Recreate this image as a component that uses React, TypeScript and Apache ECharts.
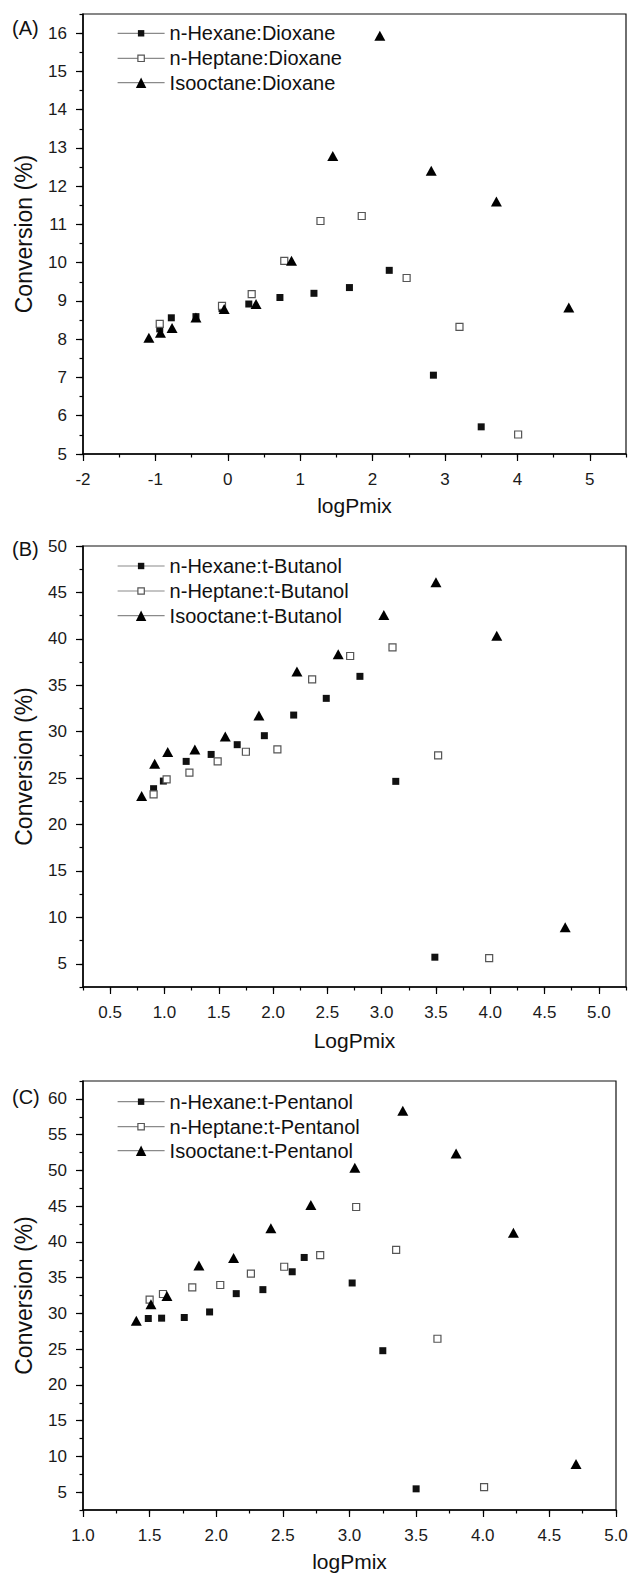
import React, { useEffect, useRef } from 'react';
import * as echarts from 'echarts';

const FONT = '"Liberation Sans", Arial, Helvetica, sans-serif';

// ---------- Panel (A): solvent mixtures with Dioxane ----------
const namesA = ['n-Hexane:Dioxane', 'n-Heptane:Dioxane', 'Isooctane:Dioxane'];
const hexaneA_x = [-0.94, -0.78, -0.44, -0.08, 0.29, 0.72, 1.19, 1.68, 2.23, 2.84, 3.5];
const hexaneA_y = [8.27, 8.56, 8.59, 8.8, 8.92, 9.09, 9.2, 9.35, 9.8, 7.06, 5.71];
const heptaneA_x = [-0.94, -0.08, 0.33, 0.78, 1.28, 1.85, 2.47, 3.2, 4.01];
const heptaneA_y = [8.4, 8.87, 9.18, 10.05, 11.09, 11.22, 9.6, 8.32, 5.51];
const isooctaneA_x = [-1.09, -0.93, -0.77, -0.44, -0.05, 0.39, 0.88, 1.45, 2.1, 2.81, 3.71, 4.71];
const isooctaneA_y = [8.04, 8.17, 8.29, 8.57, 8.79, 8.92, 10.05, 12.79, 15.93, 12.4, 11.6, 8.83];
const xTicksA = [-2, -1, 0, 1, 2, 3, 4, 5];
const yTicksA = [5, 6, 7, 8, 9, 10, 11, 12, 13, 14, 15, 16];

// ---------- Panel (B): solvent mixtures with t-Butanol ----------
const namesB = ['n-Hexane:t-Butanol', 'n-Heptane:t-Butanol', 'Isooctane:t-Butanol'];
const hexaneB_x = [0.9, 0.99, 1.2, 1.43, 1.67, 1.92, 2.19, 2.49, 2.8, 3.13, 3.49];
const hexaneB_y = [23.86, 24.68, 26.8, 27.55, 28.6, 29.57, 31.79, 33.59, 35.96, 24.65, 5.71];
const heptaneB_x = [0.9, 1.02, 1.23, 1.49, 1.75, 2.04, 2.36, 2.71, 3.1, 3.52, 3.99];
const heptaneB_y = [23.24, 24.86, 25.58, 26.8, 27.84, 28.09, 35.64, 38.15, 39.09, 27.45, 5.61];
const isooctaneB_x = [0.79, 0.91, 1.03, 1.28, 1.56, 1.87, 2.22, 2.6, 3.02, 3.5, 4.06, 4.69];
const isooctaneB_y = [23.06, 26.55, 27.8, 28.09, 29.49, 31.75, 36.47, 38.33, 42.57, 46.09, 40.34, 8.94];
const xTicksB = [0.5, 1.0, 1.5, 2.0, 2.5, 3.0, 3.5, 4.0, 4.5, 5.0];
const yTicksB = [5, 10, 15, 20, 25, 30, 35, 40, 45, 50];

// ---------- Panel (C): solvent mixtures with t-Pentanol ----------
const namesC = ['n-Hexane:t-Pentanol', 'n-Heptane:t-Pentanol', 'Isooctane:t-Pentanol'];
const hexaneC_x = [1.49, 1.59, 1.76, 1.95, 2.15, 2.35, 2.57, 2.66, 3.02, 3.25, 3.5];
const hexaneC_y = [29.28, 29.33, 29.42, 30.2, 32.76, 33.32, 35.82, 37.82, 34.25, 24.78, 5.46];
const heptaneC_x = [1.5, 1.6, 1.82, 2.03, 2.26, 2.51, 2.78, 3.05, 3.35, 3.66, 4.01];
const heptaneC_y = [31.92, 32.71, 33.64, 33.97, 35.55, 36.52, 38.15, 44.88, 38.89, 26.45, 5.7];
const isooctaneC_x = [1.4, 1.51, 1.63, 1.87, 2.13, 2.41, 2.71, 3.04, 3.4, 3.8, 4.23, 4.7];
const isooctaneC_y = [28.96, 31.28, 32.44, 36.71, 37.73, 41.91, 45.15, 50.36, 58.34, 52.35, 41.26, 8.94];
const xTicksC = [1.0, 1.5, 2.0, 2.5, 3.0, 3.5, 4.0, 4.5, 5.0];
const yTicksC = [5, 10, 15, 20, 25, 30, 35, 40, 45, 50, 55, 60];

const pairs = (xs: number[], ys: number[]) => xs.map((x, i) => [x, ys[i]]);

const markers = [
  { symbol: 'rect', symbolSize: 7, itemStyle: { color: '#111', borderWidth: 0 }, legendH: 8, legendBorder: 0 },
  { symbol: 'rect', symbolSize: 7, itemStyle: { color: '#fff', borderColor: '#555', borderWidth: 1.2 }, legendH: 8, legendBorder: 1.2 },
  { symbol: 'triangle', symbolSize: [11, 10], itemStyle: { color: '#000', borderWidth: 0 }, legendH: 13, legendBorder: 0 },
];

const panels = [
  {
    label: '(A)', labelTop: 18, names: namesA, xName: 'logPmix',
    data: [pairs(hexaneA_x, hexaneA_y), pairs(heptaneA_x, heptaneA_y), pairs(isooctaneA_x, isooctaneA_y)],
    grid: { left: 83, top: 14, width: 543, height: 440 },
    x: { min: -2, max: 5.5, ticks: xTicksA, interval: 1, minor: 0.5, digits: 0 },
    y: { min: 5, max: 16.5, ticks: yTicksA, interval: 1, minor: 0.5 },
    legendRows: [33.3, 58.3, 82.7], xNameGap: 41,
  },
  {
    label: '(B)', labelTop: 539, names: namesB, xName: 'LogPmix',
    data: [pairs(hexaneB_x, hexaneB_y), pairs(heptaneB_x, heptaneB_y), pairs(isooctaneB_x, isooctaneB_y)],
    grid: { left: 83, top: 546, width: 543, height: 441 },
    x: { min: 0.25, max: 5.25, ticks: xTicksB, interval: undefined, split: 10, minor: 0.25, digits: 1 },
    y: { min: 2.5, max: 50, ticks: yTicksB, interval: undefined, split: 9, minor: 2.5 },
    legendRows: [566, 591, 615.7], xNameGap: 43,
  },
  {
    label: '(C)', labelTop: 1087, names: namesC, xName: 'logPmix',
    data: [pairs(hexaneC_x, hexaneC_y), pairs(heptaneC_x, heptaneC_y), pairs(isooctaneC_x, isooctaneC_y)],
    grid: { left: 83, top: 1081, width: 533, height: 432 },
    x: { min: 1, max: 5, ticks: xTicksC, interval: 0.5, minor: 0.25, digits: 1 },
    y: { min: 2.5, max: 62.5, ticks: yTicksC, interval: undefined, split: 12, minor: 2.5 },
    legendRows: [1101.7, 1126.7, 1150.7], xNameGap: 41,
  },
];

function buildOption() {
  const grid: any[] = [];
  const xAxis: any[] = [];
  const yAxis: any[] = [];
  const series: any[] = [];
  const legend: any[] = [];
  const title: any[] = [];

  panels.forEach((p, pi) => {
    grid.push({
      ...p.grid, containLabel: false, show: true,
      borderColor: '#111', borderWidth: 1.2, backgroundColor: 'transparent',
    });
    const tickLine = { color: '#000', width: 1.2 };
    const xMajor: any = {
      type: 'value', gridIndex: pi, position: 'bottom', min: p.x.min, max: p.x.max,
      name: p.xName, nameLocation: 'middle', nameGap: p.xNameGap,
      nameTextStyle: { fontSize: 21, fontFamily: FONT, color: '#111' },
      axisLine: { show: true, onZero: false, lineStyle: { color: '#000', width: 1.5 } },
      axisTick: { show: true, inside: false, length: 7, customValues: p.x.ticks, lineStyle: tickLine },
      axisLabel: {
        show: true, customValues: p.x.ticks, margin: 17, fontSize: 17, fontFamily: FONT, color: '#1a1a1a',
        formatter: (v: number) => v.toFixed(p.x.digits),
      },
      splitLine: { show: false },
    };
    if (p.x.interval) xMajor.interval = p.x.interval; else xMajor.splitNumber = (p.x as any).split;
    const xMinor = {
      type: 'value', gridIndex: pi, position: 'bottom', min: p.x.min, max: p.x.max, interval: p.x.minor,
      axisLine: { show: false, onZero: false },
      axisTick: { show: true, inside: false, length: 3.5, lineStyle: tickLine },
      axisLabel: { show: false }, splitLine: { show: false },
    };
    const yMajor: any = {
      type: 'value', gridIndex: pi, position: 'left', min: p.y.min, max: p.y.max,
      name: 'Conversion (%)', nameLocation: 'middle', nameGap: 48, nameRotate: 90,
      nameTextStyle: { fontSize: 23, fontFamily: FONT, color: '#111' },
      axisLine: { show: true, onZero: false, lineStyle: { color: '#000', width: 1.5 } },
      axisTick: { show: true, inside: false, length: 7, customValues: p.y.ticks, lineStyle: tickLine },
      axisLabel: {
        show: true, customValues: p.y.ticks, margin: 16, fontSize: 17, fontFamily: FONT, color: '#1a1a1a',
        formatter: (v: number) => String(v),
      },
      splitLine: { show: false },
    };
    if (p.y.interval) yMajor.interval = p.y.interval; else yMajor.splitNumber = (p.y as any).split;
    const yMinor = {
      type: 'value', gridIndex: pi, position: 'left', min: p.y.min, max: p.y.max, interval: p.y.minor,
      axisLine: { show: false, onZero: false },
      axisTick: { show: true, inside: false, length: 3.5, lineStyle: tickLine },
      axisLabel: { show: false }, splitLine: { show: false },
    };
    xAxis.push(xMajor, xMinor);
    yAxis.push(yMajor, yMinor);

    p.names.forEach((name, si) => {
      const m = markers[si];
      series.push({
        type: 'line', name, xAxisIndex: pi * 2, yAxisIndex: pi * 2,
        data: p.data[si], symbol: m.symbol, symbolSize: m.symbolSize,
        showSymbol: true, showAllSymbol: true, silent: true,
        lineStyle: { width: 0, opacity: 0 }, itemStyle: m.itemStyle,
        emphasis: { disabled: true }, z: 3 + si,
      });
      legend.push({
        data: [name], left: 117, top: p.legendRows[si] - 10, padding: 0,
        orient: 'vertical', itemWidth: 47, itemHeight: m.legendH, itemGap: 0,
        selectedMode: false,
        textStyle: { fontSize: 20, fontFamily: FONT, color: '#111' },
        lineStyle: { color: '#8a8a8a', width: 1.2, opacity: 1 },
        itemStyle: { borderWidth: m.legendBorder },
      });
    });

    title.push({
      text: p.label, left: 12, top: p.labelTop, padding: 0,
      textStyle: { fontSize: 20, fontWeight: 'normal', fontFamily: FONT, color: '#111' },
    });
  });

  return {
    animation: false,
    backgroundColor: '#fff',
    textStyle: { fontFamily: FONT },
    title, grid, xAxis, yAxis, series, legend,
  };
}

export default function App() {
  const ref = useRef<HTMLDivElement>(null);
  useEffect(() => {
    if (!ref.current) return;
    const chart = echarts.init(ref.current, undefined, { renderer: 'svg' });
    chart.setOption(buildOption() as any);
    return () => chart.dispose();
  }, []);
  return (
    <div
      ref={ref}
      style={{ position: 'absolute', left: 0, top: 0, width: 632, height: 1573, background: '#fff' }}
    />
  );
}
